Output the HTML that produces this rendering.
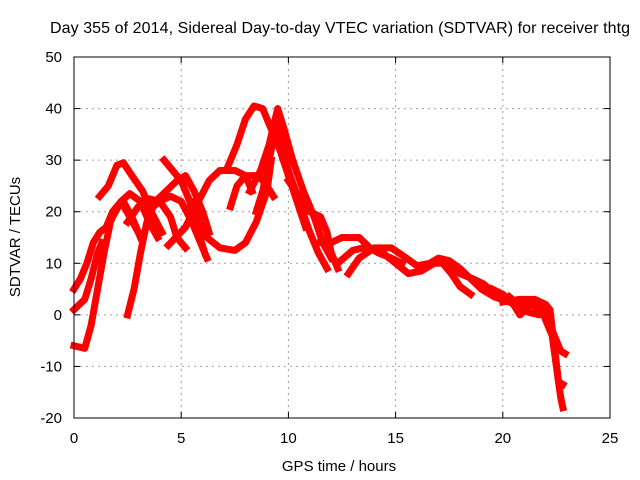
<!DOCTYPE html>
<html><head><meta charset="utf-8"><style>
body{margin:0;background:#fff;}
svg{display:block;font-family:"Liberation Sans",sans-serif;}
</style></head><body>
<svg id="c" width="640" height="480">
<text x="340" y="33" font-size="16" text-anchor="middle" textLength="580">Day 355 of 2014, Sidereal Day-to-day VTEC variation (SDTVAR) for receiver thtg</text>
<text x="339" y="471" font-size="15" text-anchor="middle">GPS time / hours</text>
<text transform="translate(20,237) rotate(-90)" font-size="15" text-anchor="middle">SDTVAR / TECUs</text>
<g id="grid"></g><g id="series"></g><g id="axes"></g>
</svg>
<script>
const xTicks=[0,5,10,15,20,25];
const yTicks=[-20,-10,0,10,20,30,40,50];
const arcA=[[0,5],[0.3,7],[0.6,10],[0.9,14],[1.2,16],[1.5,17],[1.8,20],[2.2,22],[2.6,19],[3,16]];
const arcB=[[0,-6],[0.5,-6.5],[0.8,-2],[1.1,5],[1.4,12],[1.7,18],[2,21],[2.3,22],[2.7,19],[3.1,15]];
const arcC=[[0,1],[0.5,3],[0.8,7],[1.1,12],[1.3,14]];
const arcD=[[1.2,23],[1.6,25],[2,29],[2.3,29.5],[2.7,27],[3.2,24],[3.6,20],[4.1,16]];
const arcE=[[2.5,0],[2.8,5],[3.1,12],[3.4,18],[3.8,22],[4.3,24],[4.8,26],[5.2,27],[5.6,24],[6,20],[6.3,16]];
const arcF=[[1.8,19],[2.2,22],[2.6,23.5],[3.1,22],[3.5,18],[3.9,15]];
const arcG=[[2.5,18],[3,21],[3.5,22.5],[4,22],[4.5,19],[4.8,15],[5.2,13]];
const arcH=[[3.4,20],[4,22],[4.5,23],[5,22],[5.5,18],[5.9,14],[6.2,11]];
const arcI=[[4.2,30],[4.6,28],[5,26],[5.4,22],[5.8,16],[6.1,12]];
const arcJ=[[4.4,13.5],[5.2,17],[5.8,22],[6.3,26],[6.8,28],[7.5,28],[8,27],[8.3,24]];
const arcK=[[5.6,22],[5.8,18],[6.2,15],[6.8,13],[7.5,12.5],[8,14],[8.5,18],[9,24],[9.2,30]];
const arcL=[[7.3,21],[7.6,25],[8,27],[8.6,27],[9,25],[9.3,23]];
const arcM=[[7.2,29],[7.6,33],[8,38],[8.4,40.5],[8.8,40],[9.2,36],[9.6,32],[10,27],[10.4,22],[10.8,17]];
const arcN=[[8.5,20],[8.8,24],[9.2,32],[9.4,37],[9.6,35],[10,28],[10.5,22],[11,16],[11.4,12],[11.8,9]];
const arcO=[[8.2,24],[8.7,28],[9.1,33],[9.5,40],[9.8,36],[10.2,30],[10.7,24],[11.2,19],[11.6,14],[12,11]];
const arcP=[[10,26],[10.5,23],[11,20],[11.5,19],[11.8,16],[12,12],[12.3,9]];
const arcQ=[[11.5,14],[12,14],[12.5,15],[13.3,15],[13.8,13],[14.2,12],[14.8,11],[15.3,10]];
const arcR=[[12.8,8],[13.3,11],[14,13],[14.8,13],[15.5,11],[16,9.5],[16.6,10],[17,11],[17.5,10.5],[18,9],[18.5,7],[19,5],[19.6,3.5],[20.3,2.5],[21,2]];
const arcS=[[12.3,10],[13,12.5],[13.5,13],[14.4,12],[15,10],[15.6,8],[16.2,8.5],[16.8,10],[17.2,10],[17.6,8],[18,5.5],[18.5,4]];
const arcT=[[17.5,10],[18,8],[18.6,7],[19.1,6],[19.5,4.5],[20,3],[20.6,2],[21.2,3],[21.7,2.5],[22,-1],[22.3,-4],[22.5,-10],[22.7,-16],[22.8,-18]];
const arcU=[[19.5,5],[20,4],[20.5,2],[20.8,0],[21.3,2],[21.8,1],[22.2,-2],[22.5,-5],[22.7,-7],[22.9,-7.5]];
const arcV=[[20,2.5],[20.8,3],[21.5,3],[22,2],[22.2,1],[22.4,-6],[22.6,-13],[22.8,-13.5]];
const arcW=[[20.3,3.5],[21.2,0.5],[21.7,0],[22,2],[22.3,-3]];
const allArcs=[arcA,arcB,arcC,arcD,arcE,arcF,arcG,arcH,arcI,arcJ,arcK,arcL,arcM,arcN,arcO,arcP,arcQ,arcR,arcS,arcT,arcU,arcV,arcW];

const X0=74,X1=610,Y0=418,Y1=57;
const sx=v=>X0+(v-0)/(25-0)*(X1-X0);
const sy=v=>Y0-(v+20)/(70)*(Y0-Y1);
const NS="http://www.w3.org/2000/svg";
function mk(tag,attrs,parent){const e=document.createElementNS(NS,tag);for(const k in attrs)e.setAttribute(k,attrs[k]);parent.appendChild(e);return e;}
const grid=document.getElementById('grid'),axes=document.getElementById('axes'),ser=document.getElementById('series');
xTicks.forEach(t=>{
  const x=sx(t);
  if(t>0&&t<25){const g=mk('line',{x1:x,x2:x,y1:Y1,y2:Y0,stroke:'#a0a0a0','stroke-dasharray':'2,4'},grid);
  
  }
  const tk=mk('line',{x1:x,x2:x,y1:Y0,y2:Y0-6,stroke:'#000'},axes);
  
  
  const tk2=mk('line',{x1:x,x2:x,y1:Y1,y2:Y1+6,stroke:'#000'},axes);
  
  
  const tl=mk('text',{x:x,y:443,'font-size':15,'text-anchor':'middle'},axes);tl.textContent=t;
  
  
});
yTicks.forEach(t=>{
  const y=sy(t);
  if(t>-20&&t<50){const g=mk('line',{x1:X0,x2:X1,y1:y,y2:y,stroke:'#a0a0a0','stroke-dasharray':'2,4'},grid);
  
  }
  const tk=mk('line',{x1:X0,x2:X0+6,y1:y,y2:y,stroke:'#000'},axes);
  
  
  const tk2=mk('line',{x1:X1,x2:X1-6,y1:y,y2:y,stroke:'#000'},axes);
  
  
  const tl=mk('text',{x:X0-12,y:y+5,'font-size':15,'text-anchor':'end'},axes);tl.textContent=t;
  
  
});
const fr=mk('rect',{x:X0,y:Y1,width:X1-X0,height:Y0-Y1,fill:'none',stroke:'#000'},axes);


allArcs.forEach(a=>{
  const p=mk('polyline',{points:a.map(d=>sx(d[0])+','+sy(d[1])).join(' '),fill:'none',stroke:'#ff0000','stroke-width':7,'stroke-linejoin':'round','stroke-linecap':'square'},ser);
  
  
});
</script>
</body></html>
